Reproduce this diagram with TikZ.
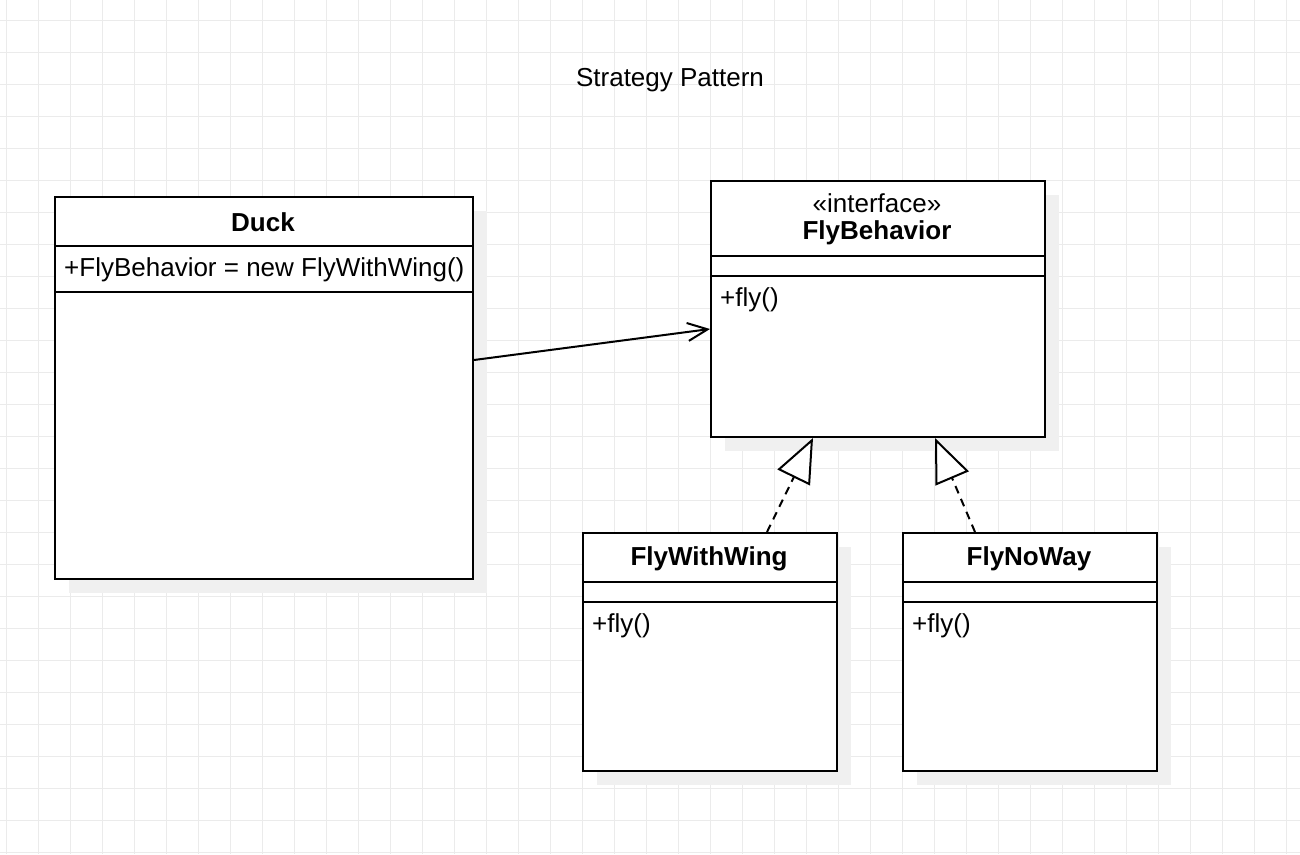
\documentclass[tikz,border=0pt]{standalone}
\usepackage{fontspec}
\setmainfont{Liberation Sans}
\usetikzlibrary{arrows.meta}
\usetikzlibrary{shadows}
\tikzset{umlbox/.style={draw, line width=2pt, fill=white, rectangle, anchor=north west, inner sep=0pt, drop shadow={shadow xshift=14pt, shadow yshift=-14pt, fill=black!6, opacity=1}},
  classname/.style={font=\bfseries\fontsize{26}{30}\selectfont, inner sep=0pt},
  member/.style={font=\fontsize{26}{30}\selectfont, anchor=west, inner sep=0pt},
  divider/.style={line width=2pt},
  assoc/.style={-{Straight Barb[length=20pt,width=18pt]}, line width=2pt},
  realize/.style={-{Triangle[open,length=44pt,width=36pt,fill=white]}, line width=2pt, dash pattern=on 8pt off 6pt}}

\begin{document}
\begin{tikzpicture}[x=1pt, y=-1pt]

  % canvas
  \fill[white] (0,0) rectangle (1300,854);
  \useasboundingbox (0,0) rectangle (1300,854);
  \foreach \x in {6,38,...,1300} \draw[black!8, line width=1pt] (\x,0) -- (\x,854);
  \foreach \y in {20,52,...,854} \draw[black!8, line width=1pt] (0,\y) -- (1300,\y);

  % title
  \node[font=\fontsize{26}{30}\selectfont] (title) at (670,80) {Strategy Pattern};

  % context
  \node[umlbox, minimum width=418pt, minimum height=382pt] (duck) at (54,196) {};
  \draw[divider] ([yshift=-50pt]duck.north west) -- ([yshift=-50pt]duck.north east);
  \draw[divider] ([yshift=-96pt]duck.north west) -- ([yshift=-96pt]duck.north east);
  \node[classname] (duck-name) at (263,222) {Duck};
  \node[member] (duck-attr) at (64,270) {+FlyBehavior = new FlyWithWing()};

  % strategy interface
  \node[umlbox, minimum width=334pt, minimum height=256pt] (fly) at (710,180) {};
  \draw[divider] ([yshift=-76pt]fly.north west) -- ([yshift=-76pt]fly.north east);
  \draw[divider] ([yshift=-96pt]fly.north west) -- ([yshift=-96pt]fly.north east);
  \node[font=\fontsize{26}{30}\selectfont, inner sep=0pt] (fly-stereo) at (877,203) {«interface»};
  \node[classname] (fly-name) at (877,233) {FlyBehavior};
  \node[member] (fly-op) at (720,300) {+fly()};

  % concrete strategies
  \node[umlbox, minimum width=254pt, minimum height=238pt] (wing) at (582,532) {};
  \draw[divider] ([yshift=-50pt]wing.north west) -- ([yshift=-50pt]wing.north east);
  \draw[divider] ([yshift=-70pt]wing.north west) -- ([yshift=-70pt]wing.north east);
  \node[classname] (wing-name) at (709,559) {FlyWithWing};
  \node[member] (wing-op) at (592,626) {+fly()};

  \node[umlbox, minimum width=254pt, minimum height=238pt] (noway) at (902,532) {};
  \draw[divider] ([yshift=-50pt]noway.north west) -- ([yshift=-50pt]noway.north east);
  \draw[divider] ([yshift=-70pt]noway.north west) -- ([yshift=-70pt]noway.north east);
  \node[classname] (noway-name) at (1029,559) {FlyNoWay};
  \node[member] (noway-op) at (912,626) {+fly()};

  % relations
  \draw[assoc] ([yshift=-164pt]duck.north east) -- ([yshift=-149pt]fly.north west);
  \draw[realize] ([xshift=57pt]wing.north) -- ([xshift=-65pt]fly.south);
  \draw[realize] ([xshift=-55pt]noway.north) -- ([xshift=57pt]fly.south);

\end{tikzpicture}
\end{document}
